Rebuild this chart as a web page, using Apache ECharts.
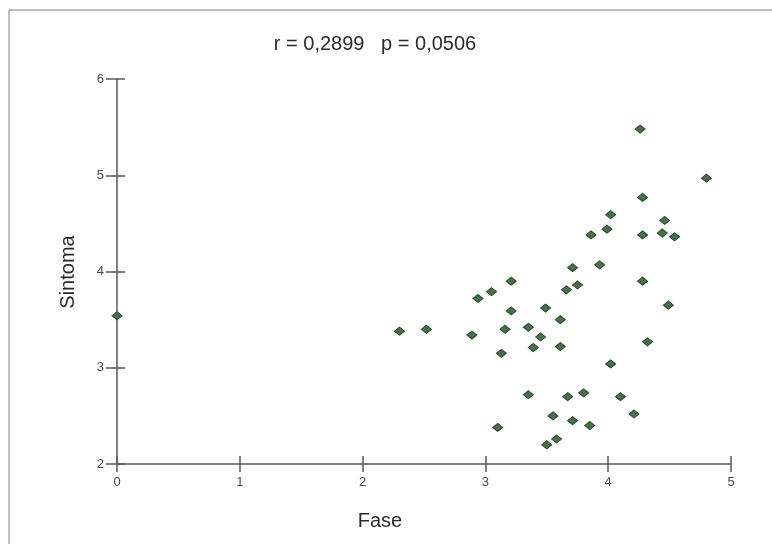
<!DOCTYPE html>
<html>
<head>
<meta charset="utf-8">
<script src="https://cdn.jsdelivr.net/npm/echarts@6/dist/echarts.min.js"></script>
<style>
  html, body { margin: 0; padding: 0; background: #fff; }
  #chart { width: 772px; height: 544px; }
</style>
</head>
<body>
<div id="chart"></div>
<script>
// Fase (x) / Sintoma (y)
const fase = [
  0.00, 2.30, 2.52, 2.89, 2.94, 3.05, 3.21, 3.21, 3.16, 3.13,
  3.35, 3.45, 3.49, 3.39, 3.61, 3.61, 3.71, 3.66, 3.75, 3.93,
  4.28, 4.49, 4.32, 4.02, 3.35, 3.67, 3.80, 4.10, 4.21, 3.55,
  3.71, 3.85, 3.10, 3.58, 3.50, 4.26, 4.80, 4.28, 4.02, 3.99,
  3.86, 4.28, 4.46, 4.44, 4.54
]
const sintoma = [
  3.54, 3.38, 3.40, 3.34, 3.72, 3.79, 3.90, 3.59, 3.40, 3.15,
  3.42, 3.32, 3.62, 3.21, 3.50, 3.22, 4.04, 3.81, 3.86, 4.07,
  3.90, 3.65, 3.27, 3.04, 2.72, 2.70, 2.74, 2.70, 2.52, 2.50,
  2.45, 2.40, 2.38, 2.26, 2.20, 5.48, 4.97, 4.77, 4.59, 4.44,
  4.38, 4.38, 4.53, 4.40, 4.36
]
const titleText = 'r = 0,2899   p = 0,0506'
const xName = 'Fase'
const yName = 'Sintoma'

const points = fase.map((x, i) => [x, sintoma[i]])

const axisColor = '#5a5a5a'
const font = 'Liberation Sans, Arial, sans-serif'
const labelStyle = { color: '#4a4a4a', fontSize: 13, fontFamily: font }

const chart = echarts.init(document.getElementById('chart'), null, { renderer: 'canvas' })

chart.setOption({
  animation: false,
  grid: { left: 117, right: 41, top: 79, bottom: 80 },
  xAxis: [
    {
      type: 'value', min: 0, max: 5, interval: 1, position: 'bottom',
      splitLine: { show: false },
      axisLine: { show: true, lineStyle: { color: axisColor, width: 1.5 } },
      axisTick: { show: true, length: 8, lineStyle: { color: axisColor, width: 1.5 } },
      axisLabel: { ...labelStyle, margin: 12 }
    },
    {
      // second copy only for the inner half of the crossing ticks
      type: 'value', min: 0, max: 5, interval: 1, position: 'bottom',
      splitLine: { show: false },
      axisLine: { show: false },
      axisTick: { show: true, inside: true, length: 8, lineStyle: { color: axisColor, width: 1.5 } },
      axisLabel: { show: false }
    }
  ],
  yAxis: [
    {
      type: 'value', min: 2, max: 6, interval: 1, position: 'left',
      splitLine: { show: false },
      axisLine: { show: true, lineStyle: { color: axisColor, width: 1.5 } },
      axisTick: { show: true, length: 11, lineStyle: { color: axisColor, width: 1.5 } },
      axisLabel: { ...labelStyle, margin: 13 }
    },
    {
      type: 'value', min: 2, max: 6, interval: 1, position: 'left',
      splitLine: { show: false },
      axisLine: { show: false },
      axisTick: { show: true, inside: true, length: 8, lineStyle: { color: axisColor, width: 1.5 } },
      axisLabel: { show: false }
    }
  ],
  series: [{
    type: 'scatter',
    xAxisIndex: 0,
    yAxisIndex: 0,
    symbol: 'diamond',
    symbolSize: [10, 8],
    itemStyle: { color: '#3a7a3a', borderColor: '#3c3c3c', borderWidth: 1, opacity: 1 },
    data: points
  }],
  graphic: [
    // frame lines (top and left)
    { type: 'line', shape: { x1: 9, y1: 10, x2: 772, y2: 10 }, style: { stroke: '#a8a8a8', lineWidth: 1.5 } },
    { type: 'line', shape: { x1: 9, y1: 10, x2: 9, y2: 544 }, style: { stroke: '#a8a8a8', lineWidth: 1.5 } },
    {
      type: 'text', x: 375, y: 44,
      style: { text: titleText, fill: '#2a2a2a', fontSize: 20, fontFamily: font, textAlign: 'center', textVerticalAlign: 'middle' }
    },
    {
      type: 'text', x: 380, y: 521,
      style: { text: xName, fill: '#2a2a2a', fontSize: 20, fontFamily: font, textAlign: 'center', textVerticalAlign: 'middle' }
    },
    {
      type: 'text', x: 68, y: 272, rotation: Math.PI / 2,
      style: { text: yName, fill: '#2a2a2a', fontSize: 20, fontFamily: font, textAlign: 'center', textVerticalAlign: 'middle' }
    }
  ]
})
</script>
</body>
</html>
